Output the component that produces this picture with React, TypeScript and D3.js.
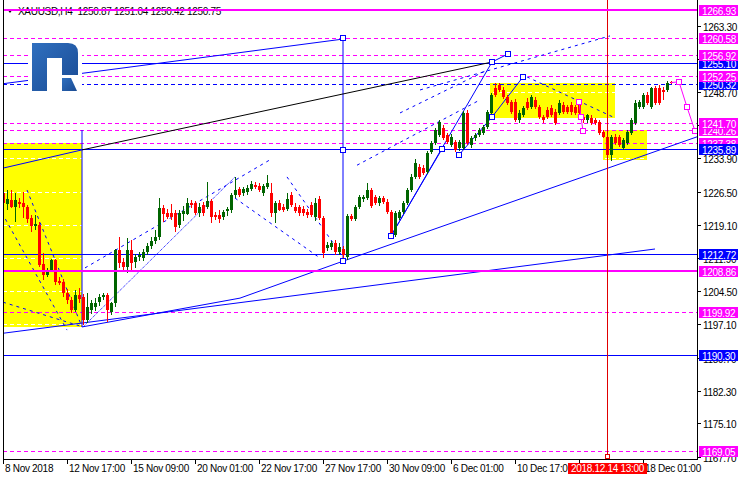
import React from 'react';
import * as d3 from 'd3';

// OHLC, H4 XAUUSD
const bars: [number, number, number, number][] = [
  [1226.2,1226.9,1223.6,1224.0],[1223.8,1226.9,1222.5,1224.9],[1224.7,1226.9,1222.9,1223.1],[1223.1,1226.2,1219.8,1224.7],
  [1224.2,1225.1,1222.9,1223.8],[1224.0,1226.4,1220.7,1223.1],[1223.1,1223.6,1219.6,1220.5],[1220.7,1221.4,1217.6,1218.9],
  [1218.9,1221.4,1218.0,1219.3],[1219.1,1219.8,1209.8,1210.2],[1210.4,1212.9,1206.9,1208.0],[1208.0,1209.6,1207.6,1208.7],
  [1209.1,1211.6,1208.7,1211.3],[1211.3,1211.6,1205.8,1206.5],[1206.7,1207.6,1205.8,1206.2],[1206.5,1207.1,1203.1,1204.0],
  [1204.0,1204.9,1201.6,1202.5],[1202.5,1203.1,1199.6,1200.3],[1200.3,1204.7,1199.8,1203.6],[1203.6,1205.1,1201.8,1202.7],
  [1203.1,1203.8,1197.0,1198.0],[1198.0,1204.0,1197.4,1200.9],[1200.3,1202.5,1199.4,1201.8],[1200.9,1202.9,1200.0,1201.8],
  [1202.0,1203.8,1201.1,1203.1],[1203.1,1204.0,1202.5,1203.6],[1203.6,1204.0,1197.6,1200.3],[1199.8,1202.0,1199.1,1201.8],
  [1201.8,1213.8,1200.9,1213.6],[1213.6,1216.5,1209.6,1210.7],[1210.9,1211.8,1208.9,1209.8],[1209.8,1216.2,1208.4,1213.6],
  [1213.6,1215.8,1208.9,1210.7],[1210.9,1212.7,1209.6,1212.0],[1212.0,1213.1,1211.1,1212.5],[1211.8,1213.8,1211.1,1213.1],
  [1213.1,1215.1,1212.5,1214.5],[1214.5,1216.5,1213.8,1215.6],[1215.6,1218.0,1214.9,1216.5],[1216.5,1225.1,1215.8,1222.9],
  [1222.9,1223.6,1219.8,1221.6],[1221.8,1222.7,1220.5,1220.9],[1221.8,1223.8,1220.2,1220.9],[1221.8,1222.5,1217.6,1218.7],
  [1219.1,1222.5,1218.4,1221.8],[1221.6,1223.3,1220.0,1222.2],[1221.6,1225.1,1221.4,1224.0],[1224.0,1224.7,1222.9,1223.6],
  [1224.0,1224.5,1221.4,1221.8],[1221.8,1224.0,1220.9,1223.1],[1223.6,1224.2,1221.1,1221.8],[1223.1,1228.7,1222.7,1224.4],
  [1224.4,1224.9,1219.6,1220.9],[1221.4,1222.0,1220.2,1220.9],[1221.4,1222.5,1219.6,1220.5],[1220.9,1222.5,1220.2,1222.0],
  [1222.2,1223.1,1221.1,1222.7],[1222.5,1226.2,1221.8,1225.8],[1225.8,1229.8,1225.1,1226.9],[1227.1,1227.6,1225.3,1225.8],
  [1226.2,1227.6,1225.6,1227.1],[1226.4,1228.0,1225.8,1227.3],[1227.1,1228.9,1226.7,1228.2],[1228.0,1228.6,1227.1,1227.6],
  [1227.8,1228.4,1226.4,1226.9],[1226.2,1228.2,1225.6,1227.8],[1227.6,1230.2,1227.1,1228.4],[1226.2,1228.4,1220.9,1221.8],
  [1221.8,1224.4,1219.6,1224.0],[1224.0,1224.7,1222.2,1222.5],[1223.1,1223.8,1222.0,1222.5],[1222.7,1226.2,1222.2,1224.9],
  [1225.8,1226.4,1223.1,1223.6],[1223.1,1224.0,1221.8,1222.2],[1223.1,1223.6,1221.1,1221.8],[1222.7,1223.3,1221.1,1221.8],
  [1222.0,1222.7,1220.7,1221.3],[1223.6,1224.2,1220.9,1221.3],[1220.9,1225.1,1220.0,1224.0],[1224.9,1225.5,1220.2,1220.7],
  [1220.7,1221.1,1211.8,1212.9],[1214.0,1215.3,1213.3,1214.7],[1214.2,1215.6,1213.6,1215.1],[1215.1,1215.8,1212.5,1213.1],
  [1213.1,1215.1,1212.5,1214.2],[1213.8,1214.4,1211.1,1212.5],[1212.0,1221.6,1211.3,1221.1],[1221.1,1221.6,1220.0,1220.5],
  [1220.5,1223.6,1220.0,1223.1],[1223.1,1225.8,1222.7,1225.3],[1224.9,1225.8,1224.2,1225.3],[1225.1,1228.4,1224.7,1226.9],
  [1226.9,1227.3,1222.9,1223.3],[1225.3,1225.8,1223.6,1224.0],[1224.0,1225.6,1223.3,1225.1],[1225.1,1225.6,1223.8,1224.2],
  [1224.2,1224.9,1221.6,1222.0],[1222.0,1222.5,1216.7,1217.3],[1216.9,1222.2,1216.5,1221.8],[1220.7,1222.5,1220.2,1222.0],
  [1222.0,1224.4,1221.6,1224.0],[1224.0,1227.3,1223.6,1226.9],[1226.9,1230.4,1226.4,1229.8],[1229.8,1233.8,1229.3,1232.9],
  [1232.0,1232.7,1229.3,1229.8],[1231.8,1232.4,1230.2,1230.7],[1230.9,1235.5,1230.4,1235.1],[1235.3,1237.8,1234.9,1237.3],
  [1237.3,1240.7,1236.9,1240.2],[1239.1,1242.4,1238.7,1242.0],[1240.7,1241.3,1238.0,1238.4],[1239.1,1239.5,1237.1,1237.5],
  [1236.9,1239.3,1236.4,1238.7],[1237.5,1238.0,1235.3,1235.8],[1236.2,1238.0,1235.5,1237.5],[1236.2,1244.4,1235.8,1244.0],
  [1244.0,1244.6,1236.9,1237.3],[1236.9,1238.9,1236.2,1238.4],[1238.4,1239.5,1237.8,1239.1],[1239.1,1240.7,1238.7,1240.2],
  [1239.5,1241.3,1239.1,1240.9],[1240.9,1244.6,1240.4,1244.2],[1244.0,1248.4,1243.5,1248.0],[1249.5,1250.7,1247.5,1248.0],
  [1250.2,1250.7,1248.6,1249.1],[1249.1,1249.7,1247.1,1247.5],[1247.5,1248.0,1245.8,1246.2],[1246.4,1246.9,1243.8,1244.2],
  [1246.4,1247.1,1242.0,1242.4],[1242.4,1244.6,1241.8,1244.0],[1243.5,1245.5,1243.1,1245.1],[1246.4,1247.3,1244.6,1245.1],
  [1245.3,1248.0,1244.9,1247.5],[1246.9,1247.5,1244.9,1245.3],[1245.3,1245.8,1242.7,1243.1],[1243.1,1243.5,1241.8,1242.4],
  [1244.6,1245.3,1242.7,1243.1],[1245.1,1245.8,1243.1,1243.5],[1244.2,1244.9,1241.3,1241.8],[1244.0,1246.9,1243.5,1246.2],
  [1245.8,1246.4,1243.8,1244.2],[1245.3,1245.8,1243.8,1244.2],[1245.8,1246.4,1243.5,1244.2],[1245.3,1245.8,1243.5,1244.0],
  [1246.4,1246.9,1243.5,1244.0],[1243.1,1243.5,1241.8,1242.4],[1242.4,1243.8,1241.8,1243.5],[1242.9,1243.5,1241.3,1241.8],
  [1242.4,1242.9,1241.3,1241.8],[1242.0,1242.4,1239.1,1239.5],[1239.8,1240.2,1238.4,1238.7],[1238.7,1239.1,1233.6,1234.7],
  [1234.7,1239.1,1233.3,1238.7],[1238.7,1239.3,1236.9,1237.3],[1238.7,1239.1,1236.4,1236.9],[1236.2,1238.4,1235.8,1238.0],
  [1237.3,1240.2,1236.9,1239.8],[1239.5,1242.9,1239.1,1242.4],[1241.8,1246.9,1241.3,1246.2],[1245.3,1246.9,1244.9,1246.4],
  [1245.3,1248.4,1244.9,1248.0],[1248.0,1248.6,1245.8,1246.2],[1245.3,1249.7,1244.9,1249.5],[1249.5,1250.0,1245.8,1246.2],
  [1249.5,1250.2,1245.8,1246.2],[1249.1,1249.7,1246.9,1248.6],[1249.1,1251.1,1248.6,1250.7],[1250.87,1251.04,1250.42,1250.75],
];

const priceTicks = [1263.30, 1255.90, 1248.70, 1241.30, 1233.90, 1226.50, 1219.10, 1211.90, 1204.50, 1197.10, 1189.70, 1182.30, 1175.10, 1167.70];
const timeTickBars = [0, 16, 32, 48, 64, 80, 96, 112, 128, 160];
const timeLabels = ['8 Nov 2018', '12 Nov 17:00', '15 Nov 09:00', '20 Nov 01:00', '22 Nov 17:00', '27 Nov 17:00', '30 Nov 09:00', '6 Dec 01:00', '10 Dec 17:00', '18 Dec 01:00'];
const hiddenTickBars = [144];

const magentaThick = [1266.93, 1208.86];
const magentaDashed = [1260.58, 1256.92, 1252.25, 1241.70, 1240.26, 1237.38, 1199.92, 1169.05];
const blueSolid = [1255.10, 1235.89, 1212.72, 1190.30];
const blueDashed = [1250.32];
const labelOrder = [1266.93, 1260.58, 1255.10, 1256.92, 1250.32, 1252.25, 1240.26, 1241.70, 1237.38, 1235.89, 1212.72, 1208.86, 1199.92, 1190.30, 1169.05];

// rectangles: [bar0, priceTop, bar1, priceBottom]
const yellowBoxes: [number, number, number, number][] = [
  [-1, 1237.3, 19.75, 1196.5],
  [121.75, 1250.6, 153, 1242.9],
  [150, 1240.2, 161, 1233.6],
];

// trend objects in [bar, price]
const blueLines: [number, number][][] = [
  [[-0.75, 1250.4], [85, 1260.4]],
  [[-0.75, 1231.6], [19.75, 1235.8]],
  [[85, 1260.6], [85, 1211.1]],
  [[19.75, 1240.2], [19.75, 1196.5]],
  [[0, 1195.1], [163, 1213.8]],
  [[19.75, 1196.5], [59.25, 1202.9], [85, 1211.1]],
  [[85, 1211.1], [173.5, 1238.7]],
  [[97, 1216.7], [122.25, 1255.3]],
  [[97, 1216.7], [109.75, 1236.0]],
  [[114, 1234.7], [122.25, 1243.1], [130, 1252.0]],
  [[122.25, 1255.3], [126.25, 1257.1]],
];
const blackLines: [number, number][][] = [
  [[19.75, 1235.8], [122.25, 1255.3]],
];
const blueDashLines: [number, number][][] = [
  [[6, 1226.9], [19.75, 1196.5]],
  [[-0.25, 1221.8], [16, 1195.8]],
  [[0, 1202.0], [20, 1196.5]],
  [[20.5, 1209.6], [66.75, 1233.6]],
  [[58, 1225.1], [79.25, 1211.8]],
  [[71, 1229.8], [85, 1212.0]],
  [[88.5, 1232.4], [119.25, 1246.9]],
  [[104.25, 1249.1], [151.75, 1261.1]],
  [[99.25, 1244.0], [121, 1253.5]],
  [[131, 1252.0], [152.5, 1243.1]],
];
const blueDotLines: [number, number][][] = [
  [[20, 1196.5], [58, 1229.8]],
];
const blueMarkers: [number, number][] = [
  [85, 1260.6], [85, 1235.8], [85, 1211.1], [97, 1216.7], [109.75, 1236.0], [114, 1234.7],
  [122.25, 1243.1], [122.25, 1255.3], [126.25, 1257.1], [130, 1252.0],
];
const magentaPaths: [number, number][][] = [
  [[144, 1246.4], [144.5, 1243.1], [145, 1240.0]],
  [[167, 1250.75], [169, 1250.9], [171, 1245.3], [173, 1240.0]],
];
const magentaMarkers: [number, number][] = [
  [144, 1246.4], [144.5, 1243.1], [145, 1240.0], [169, 1250.9], [171, 1245.3], [173, 1240.0],
];
const markerBar = 151;
const markerLabel = '2018.12.14 13:00';
const header = 'XAUUSD,H4  1250.87 1251.04 1250.42 1250.75';

const FONT = 'Liberation Sans, Arial, sans-serif';
const MAG = '#ff00ff';
const BLUE = '#0000ff';
const GREEN = '#006400';
const RED = '#ff0000';
const LS = -0.3;

export default function App() {
  const left = 3, right = 697, bottom = 459;
  const x = d3.scaleLinear().domain([0, 173.5]).range([3, 697]);
  const y = d3.scaleLinear().domain([1263.3, 1167.7]).range([26, 456.7]);
  const path = d3.line<[number, number]>().x(d => x(d[0])).y(d => y(d[1]));
  const isMag = (v: number) => magentaThick.includes(v) || magentaDashed.includes(v);
  const hy = (v: number) => Math.round(y(v)) + 0.5;

  return (
    <svg width={740} height={480} style={{ position: 'fixed', left: 0, top: 0, background: '#fff' }} fontFamily={FONT}>
      <defs>
        <clipPath id="plot"><rect x={left} y={0} width={right - left} height={bottom} /></clipPath>
        <linearGradient id="logo" x1="0" y1="0" x2="1" y2="1">
          <stop offset="0" stopColor="#2f6fbf" />
          <stop offset="1" stopColor="#1a4b93" />
        </linearGradient>
      </defs>
      <rect x={0} y={0} width={740} height={480} fill="#fff" />
      <g clipPath="url(#plot)" shapeRendering="crispEdges">
        {yellowBoxes.map((b, i) => (
          <rect key={i} x={x(b[0])} y={y(b[1])} width={x(b[2]) - x(b[0])} height={y(b[3]) - y(b[1])} fill="#ffff00" />
        ))}
        {priceTicks.map((v, i) => (
          <line key={i} x1={left} x2={right} y1={hy(v)} y2={hy(v)} stroke="#fff" strokeDasharray="4,3" />
        ))}
        {magentaDashed.map((v, i) => (
          <line key={i} x1={left} x2={right} y1={hy(v)} y2={hy(v)} stroke={MAG} strokeDasharray="4,3" />
        ))}
        {blueDashed.map((v, i) => (
          <line key={i} x1={left} x2={right} y1={hy(v)} y2={hy(v)} stroke={BLUE} strokeDasharray="4,3" />
        ))}
        {blueSolid.map((v, i) => (
          <rect key={i} x={left} width={right - left} y={Math.round(y(v))} height={1} fill={BLUE} />
        ))}
      </g>
      <g clipPath="url(#plot)">
        {blueDashLines.map((l, i) => (
          <path key={i} d={path(l) || ''} fill="none" stroke={BLUE} strokeDasharray="3,4" />
        ))}
        {blueDotLines.map((l, i) => (
          <path key={i} d={path(l) || ''} fill="none" stroke={BLUE} strokeDasharray="1,1" />
        ))}
        {blueLines.map((l, i) => (
          <path key={i} d={path(l) || ''} fill="none" stroke={BLUE} />
        ))}
        {blackLines.map((l, i) => (
          <path key={i} d={path(l) || ''} fill="none" stroke="#000" />
        ))}
      </g>
      <g clipPath="url(#plot)" shapeRendering="crispEdges">
        {bars.map((b, i) => {
          const [o, h, l, c] = b;
          const cx = Math.round(x(i));
          const col = c >= o ? GREEN : RED;
          const top = Math.round(y(Math.max(o, c)));
          const bot = Math.round(y(Math.min(o, c)));
          return (
            <g key={i}>
              <rect x={cx} y={Math.round(y(h))} width={1} height={Math.max(1, Math.round(y(l)) - Math.round(y(h)))} fill={col} />
              <rect x={cx - 1} y={top} width={3} height={Math.max(1, bot - top)} fill={col} />
            </g>
          );
        })}
        {magentaThick.map((v, i) => (
          <rect key={i} x={left} width={right - left} y={Math.round(y(v)) - 1} height={2} fill={MAG} />
        ))}
      </g>
      <g clipPath="url(#plot)">
        {magentaPaths.map((l, i) => (
          <path key={i} d={path(l) || ''} fill="none" stroke={MAG} />
        ))}
      </g>
      <g clipPath="url(#plot)" shapeRendering="crispEdges">
        {magentaMarkers.map((m, i) => (
          <rect key={i} x={Math.round(x(m[0])) - 2.5} y={Math.round(y(m[1])) - 2.5} width={5} height={5} fill="#fff" stroke={MAG} />
        ))}
        {blueMarkers.map((m, i) => (
          <rect key={i} x={Math.round(x(m[0])) - 2.5} y={Math.round(y(m[1])) - 2.5} width={5} height={5} fill="#fff" stroke={BLUE} />
        ))}
        <line x1={Math.round(x(markerBar)) + 0.5} x2={Math.round(x(markerBar)) + 0.5} y1={0} y2={bottom} stroke="#e00000" />
        <rect x={Math.round(x(markerBar)) - 1.5} y={bottom - 4.5} width={4} height={4} fill="#fff" stroke="#e00000" />
      </g>

      {/* logo */}
      <rect x={28} y={41} width={54} height={53} fill="#fff" />
      <path d="M32,43 H68 Q78,43 78,53 V75 H62 V58 H47 V91 H32 Z" fill="url(#logo)" />
      <path d="M62,78 H71 L77,91 H62 Z" fill="url(#logo)" />

      {/* header */}
      <path d="M7,9 L13,9 L10,13 Z" fill="#000" />
      <text x={18} y={15} fontSize={10} letterSpacing={LS} fill="#000" style={{ whiteSpace: 'pre' }}>{header}</text>
      <rect x={left} width={right - left} y={Math.round(y(magentaThick[0])) - 1} height={2} fill={MAG} />

      {/* frame */}
      <g shapeRendering="crispEdges">
        <line x1={left + 0.5} x2={left + 0.5} y1={0} y2={bottom} stroke="#000" />
        <line x1={right + 0.5} x2={right + 0.5} y1={0} y2={bottom + 1} stroke="#000" />
        <line x1={left} x2={right + 1} y1={bottom + 0.5} y2={bottom + 0.5} stroke="#000" />
      </g>

      {/* y axis */}
      {priceTicks.map((v, i) => {
        const py = Math.round(y(v));
        return (
          <g key={i}>
            <line x1={698} x2={701} y1={py + 0.5} y2={py + 0.5} stroke="#000" shapeRendering="crispEdges" />
            <text x={703} y={py + 4.5} fontSize={10} letterSpacing={LS} fill="#000">{v.toFixed(2)}</text>
          </g>
        );
      })}
      {labelOrder.map((v, i) => {
        const py = Math.round(y(v));
        return (
          <g key={i}>
            <rect x={699} y={py - 5} width={39} height={11} fill={isMag(v) ? MAG : BLUE} shapeRendering="crispEdges" />
            <text x={702} y={py + 4.5} fontSize={10} letterSpacing={LS} fill="#fff">{v.toFixed(2)}</text>
          </g>
        );
      })}

      {/* x axis */}
      {[...timeTickBars, ...hiddenTickBars].map((b, i) => {
        const px = Math.round(x(b));
        return <line key={i} x1={px + 0.5} x2={px + 0.5} y1={bottom + 1} y2={bottom + 5} stroke="#000" shapeRendering="crispEdges" />;
      })}
      {timeTickBars.map((b, i) => (
        <text key={i} x={Math.round(x(b)) + 2} y={472} fontSize={10} letterSpacing={LS} fill="#000">{timeLabels[i]}</text>
      ))}
      <rect x={Math.round(x(markerBar)) - 39} y={463} width={79} height={11} fill="#ff0000" shapeRendering="crispEdges" />
      <text x={Math.round(x(markerBar)) + 0.5} y={472} fontSize={10} letterSpacing={LS} fill="#fff" textAnchor="middle">{markerLabel}</text>
    </svg>
  );
}
